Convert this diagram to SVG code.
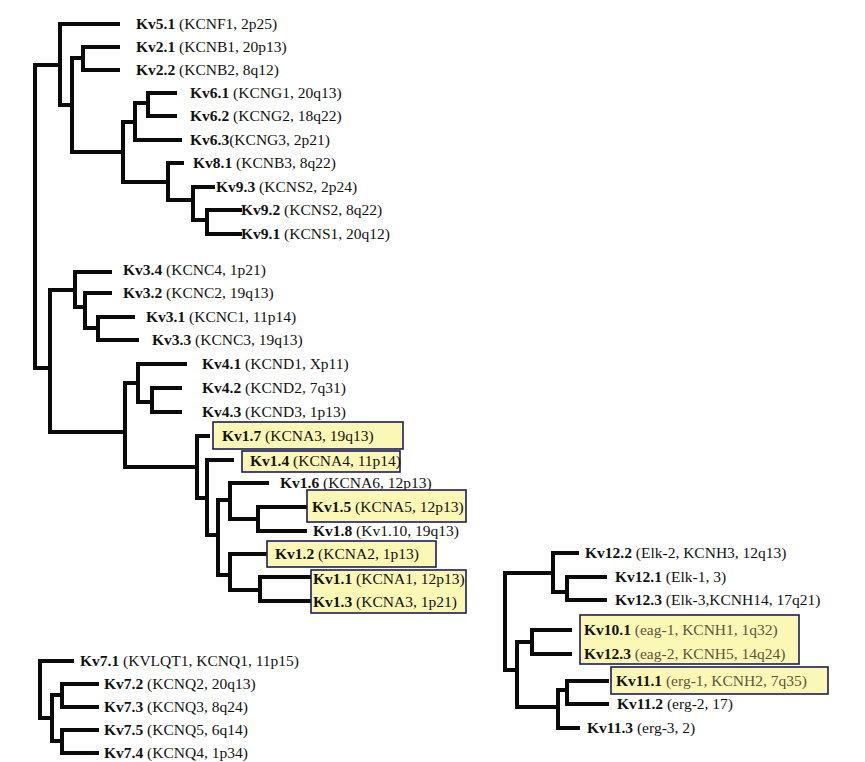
<svg xmlns="http://www.w3.org/2000/svg" width="865" height="762" viewBox="0 0 865 762">
<style>
.l{fill:none;stroke:#0a0a0a;stroke-width:4;stroke-linejoin:miter;stroke-linecap:square}
text{font-family:"Liberation Serif","Times New Roman",serif;font-size:15.5px;fill:#111}
.n{font-weight:bold}
.g{fill:#5a5540}
.box{fill:#fbf8b5;stroke:#1c1c5c;stroke-width:1.6}
</style>
<rect width="865" height="762" fill="#fff"/>
<g id="connectors">
<path class="l" d="M60 65H35V368H50"/>
<path class="l" d="M118 24H60V105H72"/>
<path class="l" d="M83 58H72V152H123"/>
<path class="l" d="M118 47H83V70H118"/>
<path class="l" d="M135 122H123V182H168"/>
<path class="l" d="M148 103H135V140H180"/>
<path class="l" d="M175 93H148V116H175"/>
<path class="l" d="M182 163H168V200H193"/>
<path class="l" d="M213 187H193V220H207"/>
<path class="l" d="M240 210H207V234H240"/>
<path class="l" d="M75 290H50V432H125"/>
<path class="l" d="M110 272H75V307H85"/>
<path class="l" d="M110 293H85V328H98"/>
<path class="l" d="M133 317H98V340H137"/>
<path class="l" d="M138 383H125V467H197"/>
<path class="l" d="M185 364H138V402H152"/>
<path class="l" d="M180 388H152V412H180"/>
<path class="l" d="M208 436H197V498H207"/>
<path class="l" d="M232 460H207V535H218"/>
<path class="l" d="M230 500H218V575H230"/>
<path class="l" d="M267 483H230V519H258"/>
<path class="l" d="M305 507H258V531H305"/>
<path class="l" d="M266 554H230V590H260"/>
<path class="l" d="M309 577H260V601H309"/>
<path class="l" d="M72 661H40V718H52"/>
<path class="l" d="M62 695H52V741H62"/>
<path class="l" d="M97 684H62V707H97"/>
<path class="l" d="M97 730H62V753H97"/>
<path class="l" d="M553 573H505V670H517"/>
<path class="l" d="M577 553H553V592H567"/>
<path class="l" d="M605 577H567V600H605"/>
<path class="l" d="M532 642H517V707H558"/>
<path class="l" d="M570 630H532V654H570"/>
<path class="l" d="M567 690H558V728H578"/>
<path class="l" d="M607 681H567V704H607"/>
</g>
<g id="kv5-1"><text x="136" y="29"><tspan class="n">Kv5.1</tspan> (KCNF1, 2p25)</text></g>
<g id="kv2-1"><text x="136" y="52"><tspan class="n">Kv2.1</tspan> (KCNB1, 20p13)</text></g>
<g id="kv2-2"><text x="136" y="75"><tspan class="n">Kv2.2</tspan> (KCNB2, 8q12)</text></g>
<g id="kv6-1"><text x="190" y="98"><tspan class="n">Kv6.1</tspan> (KCNG1, 20q13)</text></g>
<g id="kv6-2"><text x="190" y="121"><tspan class="n">Kv6.2</tspan> (KCNG2, 18q22)</text></g>
<g id="kv6-3"><text x="190" y="145"><tspan class="n">Kv6.3</tspan>(KCNG3, 2p21)</text></g>
<g id="kv8-1"><text x="193" y="168"><tspan class="n">Kv8.1</tspan> (KCNB3, 8q22)</text></g>
<g id="kv9-3"><text x="216" y="192"><tspan class="n">Kv9.3</tspan> (KCNS2, 2p24)</text></g>
<g id="kv9-2"><text x="241" y="215"><tspan class="n">Kv9.2</tspan> (KCNS2, 8q22)</text></g>
<g id="kv9-1"><text x="241" y="239"><tspan class="n">Kv9.1</tspan> (KCNS1, 20q12)</text></g>
<g id="kv3-4"><text x="123" y="275"><tspan class="n">Kv3.4</tspan> (KCNC4, 1p21)</text></g>
<g id="kv3-2"><text x="123" y="298"><tspan class="n">Kv3.2</tspan> (KCNC2, 19q13)</text></g>
<g id="kv3-1"><text x="146" y="322"><tspan class="n">Kv3.1</tspan> (KCNC1, 11p14)</text></g>
<g id="kv3-3"><text x="152" y="345"><tspan class="n">Kv3.3</tspan> (KCNC3, 19q13)</text></g>
<g id="kv4-1"><text x="202" y="369"><tspan class="n">Kv4.1</tspan> (KCND1, Xp11)</text></g>
<g id="kv4-2"><text x="202" y="393"><tspan class="n">Kv4.2</tspan> (KCND2, 7q31)</text></g>
<g id="kv4-3"><text x="202" y="417"><tspan class="n">Kv4.3</tspan> (KCND3, 1p13)</text></g>
<g id="kv1-7"><rect class="box" x="213" y="422" width="190" height="27"/><text x="222" y="441"><tspan class="n">Kv1.7</tspan> (KCNA3, 19q13)</text></g>
<g id="kv1-4"><rect class="box" x="242" y="451" width="158" height="21"/><text x="250" y="466"><tspan class="n">Kv1.4</tspan> (KCNA4, 11p14)</text></g>
<g id="kv1-6"><text x="280" y="488"><tspan class="n">Kv1.6</tspan> (KCNA6, 12p13)</text></g>
<g id="kv1-5"><rect class="box" x="307" y="490" width="159" height="32"/><text x="312" y="512"><tspan class="n">Kv1.5</tspan> (KCNA5, 12p13)</text></g>
<g id="kv1-8"><text x="313" y="536"><tspan class="n">Kv1.8</tspan> (Kv1.10, 19q13)</text></g>
<g id="kv1-2"><rect class="box" x="267" y="541" width="169" height="26"/><text x="275" y="559"><tspan class="n">Kv1.2</tspan> (KCNA2, 1p13)</text></g>
<g id="kv1-1-3"><rect class="box" x="311" y="570" width="155" height="43"/><text x="313" y="584"><tspan class="n">Kv1.1</tspan> (KCNA1, 12p13)</text><text x="313" y="607"><tspan class="n">Kv1.3</tspan> (KCNA3, 1p21)</text></g>
<g id="kv7-1"><text x="80" y="666"><tspan class="n">Kv7.1</tspan> (KVLQT1, KCNQ1, 11p15)</text></g>
<g id="kv7-2"><text x="104" y="689"><tspan class="n">Kv7.2</tspan> (KCNQ2, 20q13)</text></g>
<g id="kv7-3"><text x="104" y="712"><tspan class="n">Kv7.3</tspan> (KCNQ3, 8q24)</text></g>
<g id="kv7-5"><text x="104" y="735"><tspan class="n">Kv7.5</tspan> (KCNQ5, 6q14)</text></g>
<g id="kv7-4"><text x="104" y="758"><tspan class="n">Kv7.4</tspan> (KCNQ4, 1p34)</text></g>
<g id="kv12-2"><text x="585" y="558"><tspan class="n">Kv12.2</tspan> (Elk-2, KCNH3, 12q13)</text></g>
<g id="kv12-1"><text x="615" y="582"><tspan class="n">Kv12.1</tspan> (Elk-1, 3)</text></g>
<g id="kv12-3"><text x="615" y="605"><tspan class="n">Kv12.3</tspan> (Elk-3,KCNH14, 17q21)</text></g>
<g id="kv10-1-12-3"><rect class="box" x="580" y="615" width="219" height="49"/><text x="584" y="635"><tspan class="n">Kv10.1</tspan><tspan class="g"> (eag-1, KCNH1, 1q32)</tspan></text><text x="584" y="659"><tspan class="n">Kv12.3</tspan><tspan class="g"> (eag-2, KCNH5, 14q24)</tspan></text></g>
<g id="kv11-1"><rect class="box" x="611" y="667" width="217" height="27"/><text x="616" y="686"><tspan class="n">Kv11.1</tspan><tspan class="g"> (erg-1, KCNH2, 7q35)</tspan></text></g>
<g id="kv11-2"><text x="617" y="709"><tspan class="n">Kv11.2</tspan> (erg-2, 17)</text></g>
<g id="kv11-3"><text x="587" y="733"><tspan class="n">Kv11.3</tspan> (erg-3, 2)</text></g>
</svg>
